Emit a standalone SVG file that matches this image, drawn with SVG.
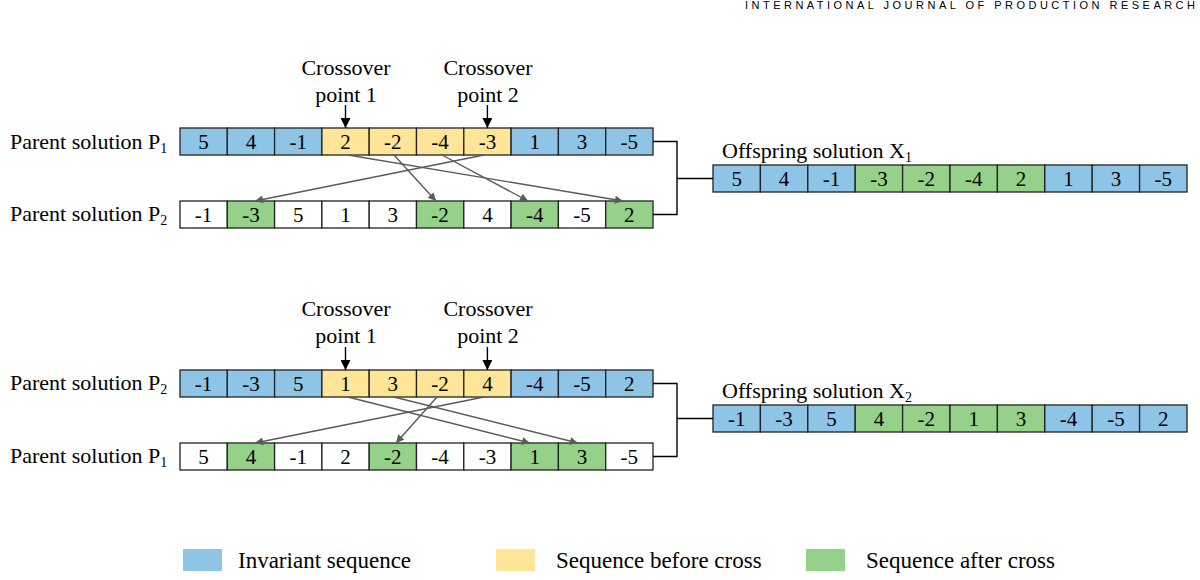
<svg xmlns="http://www.w3.org/2000/svg" width="1200" height="580" viewBox="0 0 1200 580">
<defs>
<style>
text{font-family:"Liberation Serif","Times New Roman",serif;fill:#000}
.lbl{font-size:22px}
.leg{font-size:23px}
.num{font-size:21px;text-anchor:middle}
.sub{font-size:14px}
.cap{font-size:22px;text-anchor:middle}
.b{fill:#8EC4E6;stroke:#222;stroke-width:1.3}
.y{fill:#FFE597;stroke:#222;stroke-width:1.3}
.g{fill:#96D18A;stroke:#222;stroke-width:1.3}
.w{fill:#fff;stroke:#222;stroke-width:1.3}
.cx{stroke:#5a5a5a;stroke-width:1.4;fill:none;marker-end:url(#ga)}
.pt{stroke:#000;stroke-width:1.4;fill:none;marker-end:url(#ba)}
.br{stroke:#000;stroke-width:1.4;fill:none}
.hdr{font-family:"Liberation Sans",Arial,sans-serif;font-size:11px}
</style>
<marker id="ga" viewBox="0 0 10 10" refX="10" refY="5" markerWidth="9" markerHeight="8" markerUnits="userSpaceOnUse" orient="auto"><path d="M0,0 L10,5 L0,10 z" fill="#5a5a5a"/></marker>
<marker id="ba" viewBox="0 0 10 10" refX="10" refY="5" markerWidth="11" markerHeight="10" markerUnits="userSpaceOnUse" orient="auto"><path d="M0,0 L10,5 L0,10 z" fill="#000"/></marker>
</defs>
<rect width="1200" height="580" fill="#fff"/>
<text class="hdr" x="745" y="9" textLength="450" lengthAdjust="spacing">INTERNATIONAL JOURNAL OF PRODUCTION RESEARCH</text>

<!-- Top: P1 -->
<g id="top-p1">
<text class="lbl" x="10" y="149">Parent solution P<tspan class="sub" dy="4">1</tspan></text>
<rect class="b" x="180" y="128" width="47.3" height="27"/><text class="num" x="203.6" y="149">5</text>
<rect class="b" x="227.3" y="128" width="47.3" height="27"/><text class="num" x="250.9" y="149">4</text>
<rect class="b" x="274.6" y="128" width="47.3" height="27"/><text class="num" x="298.2" y="149">-1</text>
<rect class="y" x="321.9" y="128" width="47.3" height="27"/><text class="num" x="345.5" y="149">2</text>
<rect class="y" x="369.2" y="128" width="47.3" height="27"/><text class="num" x="392.8" y="149">-2</text>
<rect class="y" x="416.5" y="128" width="47.3" height="27"/><text class="num" x="440.1" y="149">-4</text>
<rect class="y" x="463.8" y="128" width="47.3" height="27"/><text class="num" x="487.4" y="149">-3</text>
<rect class="b" x="511.1" y="128" width="47.3" height="27"/><text class="num" x="534.7" y="149">1</text>
<rect class="b" x="558.4" y="128" width="47.3" height="27"/><text class="num" x="582" y="149">3</text>
<rect class="b" x="605.7" y="128" width="47.3" height="27"/><text class="num" x="629.3" y="149">-5</text>
</g>
<g id="top-p2">
<text class="lbl" x="10" y="221">Parent solution P<tspan class="sub" dy="4">2</tspan></text>
<rect class="w" x="180" y="201" width="47.3" height="27"/><text class="num" x="203.6" y="222">-1</text>
<rect class="g" x="227.3" y="201" width="47.3" height="27"/><text class="num" x="250.9" y="222">-3</text>
<rect class="w" x="274.6" y="201" width="47.3" height="27"/><text class="num" x="298.2" y="222">5</text>
<rect class="w" x="321.9" y="201" width="47.3" height="27"/><text class="num" x="345.5" y="222">1</text>
<rect class="w" x="369.2" y="201" width="47.3" height="27"/><text class="num" x="392.8" y="222">3</text>
<rect class="g" x="416.5" y="201" width="47.3" height="27"/><text class="num" x="440.1" y="222">-2</text>
<rect class="w" x="463.8" y="201" width="47.3" height="27"/><text class="num" x="487.4" y="222">4</text>
<rect class="g" x="511.1" y="201" width="47.3" height="27"/><text class="num" x="534.7" y="222">-4</text>
<rect class="w" x="558.4" y="201" width="47.3" height="27"/><text class="num" x="582" y="222">-5</text>
<rect class="g" x="605.7" y="201" width="47.3" height="27"/><text class="num" x="629.3" y="222">2</text>
</g>
<g id="top-x1">
<text class="lbl" x="722" y="158">Offspring solution X<tspan class="sub" dy="4">1</tspan></text>
<rect class="b" x="713" y="165" width="47.4" height="27"/><text class="num" x="736.7" y="186">5</text>
<rect class="b" x="760.4" y="165" width="47.4" height="27"/><text class="num" x="784.1" y="186">4</text>
<rect class="b" x="807.8" y="165" width="47.4" height="27"/><text class="num" x="831.5" y="186">-1</text>
<rect class="g" x="855.2" y="165" width="47.4" height="27"/><text class="num" x="878.9" y="186">-3</text>
<rect class="g" x="902.6" y="165" width="47.4" height="27"/><text class="num" x="926.3" y="186">-2</text>
<rect class="g" x="950" y="165" width="47.4" height="27"/><text class="num" x="973.7" y="186">-4</text>
<rect class="g" x="997.4" y="165" width="47.4" height="27"/><text class="num" x="1021.1" y="186">2</text>
<rect class="b" x="1044.8" y="165" width="47.4" height="27"/><text class="num" x="1068.5" y="186">1</text>
<rect class="b" x="1092.2" y="165" width="47.4" height="27"/><text class="num" x="1115.9" y="186">3</text>
<rect class="b" x="1139.6" y="165" width="47.4" height="27"/><text class="num" x="1163.3" y="186">-5</text>
</g>
<g id="top-cp1">
<text class="cap" x="346" y="75">Crossover</text>
<text class="cap" x="346" y="102">point 1</text>
</g>
<g id="top-cp2">
<text class="cap" x="488" y="75">Crossover</text>
<text class="cap" x="488" y="102">point 2</text>
</g>

<!-- Bottom -->
<g id="bot-p2">
<text class="lbl" x="10" y="390">Parent solution P<tspan class="sub" dy="4">2</tspan></text>
<rect class="b" x="180" y="370" width="47.3" height="27"/><text class="num" x="203.6" y="391">-1</text>
<rect class="b" x="227.3" y="370" width="47.3" height="27"/><text class="num" x="250.9" y="391">-3</text>
<rect class="b" x="274.6" y="370" width="47.3" height="27"/><text class="num" x="298.2" y="391">5</text>
<rect class="y" x="321.9" y="370" width="47.3" height="27"/><text class="num" x="345.5" y="391">1</text>
<rect class="y" x="369.2" y="370" width="47.3" height="27"/><text class="num" x="392.8" y="391">3</text>
<rect class="y" x="416.5" y="370" width="47.3" height="27"/><text class="num" x="440.1" y="391">-2</text>
<rect class="y" x="463.8" y="370" width="47.3" height="27"/><text class="num" x="487.4" y="391">4</text>
<rect class="b" x="511.1" y="370" width="47.3" height="27"/><text class="num" x="534.7" y="391">-4</text>
<rect class="b" x="558.4" y="370" width="47.3" height="27"/><text class="num" x="582" y="391">-5</text>
<rect class="b" x="605.7" y="370" width="47.3" height="27"/><text class="num" x="629.3" y="391">2</text>
</g>
<g id="bot-p1">
<text class="lbl" x="10" y="463">Parent solution P<tspan class="sub" dy="4">1</tspan></text>
<rect class="w" x="180" y="443" width="47.3" height="27"/><text class="num" x="203.6" y="464">5</text>
<rect class="g" x="227.3" y="443" width="47.3" height="27"/><text class="num" x="250.9" y="464">4</text>
<rect class="w" x="274.6" y="443" width="47.3" height="27"/><text class="num" x="298.2" y="464">-1</text>
<rect class="w" x="321.9" y="443" width="47.3" height="27"/><text class="num" x="345.5" y="464">2</text>
<rect class="g" x="369.2" y="443" width="47.3" height="27"/><text class="num" x="392.8" y="464">-2</text>
<rect class="w" x="416.5" y="443" width="47.3" height="27"/><text class="num" x="440.1" y="464">-4</text>
<rect class="w" x="463.8" y="443" width="47.3" height="27"/><text class="num" x="487.4" y="464">-3</text>
<rect class="g" x="511.1" y="443" width="47.3" height="27"/><text class="num" x="534.7" y="464">1</text>
<rect class="g" x="558.4" y="443" width="47.3" height="27"/><text class="num" x="582" y="464">3</text>
<rect class="w" x="605.7" y="443" width="47.3" height="27"/><text class="num" x="629.3" y="464">-5</text>
</g>
<g id="bot-x2">
<text class="lbl" x="722" y="398">Offspring solution X<tspan class="sub" dy="4">2</tspan></text>
<rect class="b" x="713" y="405" width="47.4" height="27"/><text class="num" x="736.7" y="426">-1</text>
<rect class="b" x="760.4" y="405" width="47.4" height="27"/><text class="num" x="784.1" y="426">-3</text>
<rect class="b" x="807.8" y="405" width="47.4" height="27"/><text class="num" x="831.5" y="426">5</text>
<rect class="g" x="855.2" y="405" width="47.4" height="27"/><text class="num" x="878.9" y="426">4</text>
<rect class="g" x="902.6" y="405" width="47.4" height="27"/><text class="num" x="926.3" y="426">-2</text>
<rect class="g" x="950" y="405" width="47.4" height="27"/><text class="num" x="973.7" y="426">1</text>
<rect class="g" x="997.4" y="405" width="47.4" height="27"/><text class="num" x="1021.1" y="426">3</text>
<rect class="b" x="1044.8" y="405" width="47.4" height="27"/><text class="num" x="1068.5" y="426">-4</text>
<rect class="b" x="1092.2" y="405" width="47.4" height="27"/><text class="num" x="1115.9" y="426">-5</text>
<rect class="b" x="1139.6" y="405" width="47.4" height="27"/><text class="num" x="1163.3" y="426">2</text>
</g>
<g id="bot-cp1">
<text class="cap" x="346" y="316">Crossover</text>
<text class="cap" x="346" y="343">point 1</text>
</g>
<g id="bot-cp2">
<text class="cap" x="488" y="316">Crossover</text>
<text class="cap" x="488" y="343">point 2</text>
</g>

<g id="connectors">
<line class="pt" x1="345.5" y1="105" x2="345.5" y2="128"/>
<line class="pt" x1="487.4" y1="105" x2="487.4" y2="128"/>
<line class="pt" x1="345.5" y1="347" x2="345.5" y2="370"/>
<line class="pt" x1="487.4" y1="347" x2="487.4" y2="370"/>
<line class="cx" x1="348" y1="155" x2="623" y2="201"/>
<line class="cx" x1="394" y1="155" x2="436" y2="201"/>
<line class="cx" x1="442" y1="155" x2="528" y2="201"/>
<line class="cx" x1="484" y1="155" x2="255" y2="201"/>
<line class="cx" x1="348" y1="397" x2="530" y2="443"/>
<line class="cx" x1="394" y1="397" x2="578" y2="443"/>
<line class="cx" x1="437" y1="397" x2="396" y2="443"/>
<line class="cx" x1="484" y1="397" x2="255" y2="443"/>
<polyline class="br" points="653,141.5 677,141.5 677,214.5 653,214.5"/>
<line class="br" x1="677" y1="178.5" x2="713" y2="178.5"/>
<polyline class="br" points="653,383.5 677,383.5 677,456.5 653,456.5"/>
<line class="br" x1="677" y1="418.5" x2="713" y2="418.5"/>
</g>

<g id="legend">
<rect x="183" y="549" width="39" height="22" fill="#8EC4E6"/>
<text class="leg" x="238" y="568">Invariant sequence</text>
<rect x="496" y="549" width="39" height="22" fill="#FFE597"/>
<text class="leg" x="556" y="568">Sequence before cross</text>
<rect x="806" y="549" width="39" height="22" fill="#96D18A"/>
<text class="leg" x="866" y="568">Sequence after cross</text>
</g>
</svg>
